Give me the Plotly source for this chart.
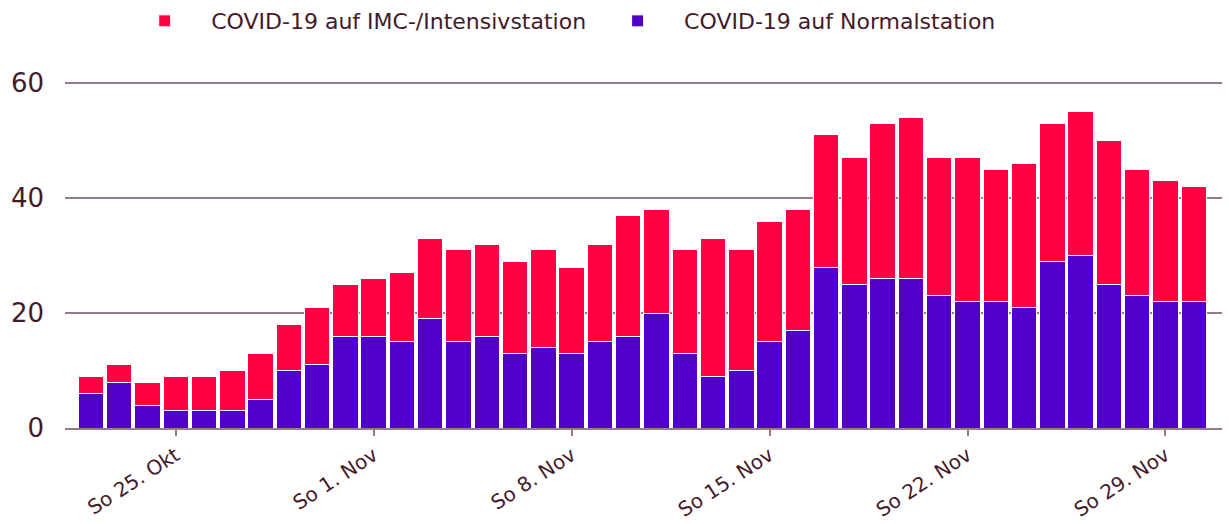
import plotly.graph_objects as go
import pandas as pd

dates = pd.date_range("2020-10-22", "2020-11-30", freq="D")
total = [9, 11, 8, 9, 9, 10, 13, 18, 21, 25,
         26, 27, 33, 31, 32, 29, 31, 28, 32, 37,
         38, 31, 33, 31, 36, 38, 51, 47, 53, 54,
         47, 47, 45, 46, 53, 55, 50, 45, 43, 42]
normal = [6, 8, 4, 3, 3, 3, 5, 10, 11, 16,
          16, 15, 19, 15, 16, 13, 14, 13, 15, 16,
          20, 13, 9, 10, 15, 17, 28, 25, 26, 26,
          23, 22, 22, 21, 29, 30, 25, 23, 22, 22]
icu = [t - n for t, n in zip(total, normal)]

tick_vals = ["2020-10-25", "2020-11-01", "2020-11-08", "2020-11-15", "2020-11-22", "2020-11-29"]
tick_text = ["So 25. Okt", "So 1. Nov", "So 8. Nov", "So 15. Nov", "So 22. Nov", "So 29. Nov"]
y_ticks = [0, 20, 40, 60]

text_color = "#441a2a"
grid_color = "#957a8e"

fig = go.Figure()
fig.add_trace(go.Bar(x=dates, y=normal, name="COVID-19 auf Normalstation",
                     marker=dict(color="#5000c8", line=dict(color="white", width=1))))
fig.add_trace(go.Bar(x=dates, y=icu, name="COVID-19 auf IMC-/Intensivstation",
                     marker=dict(color="#ff0044", line=dict(color="white", width=1))))

fig.update_layout(
    barmode="stack",
    bargap=0.1,
    width=1229, height=524,
    margin=dict(l=65, r=7, t=55, b=96, autoexpand=False),
    plot_bgcolor="white", paper_bgcolor="white",
    font=dict(family="DejaVu Sans", color=text_color, size=17),
    legend=dict(orientation="h", x=0.046, xanchor="left", y=1.091, yanchor="middle",
                traceorder="reversed", font=dict(size=22), itemwidth=83),
    showlegend=True,
)
fig.update_xaxes(
    range=["2020-10-21 02:00", "2020-12-01 00:00"],
    tickvals=tick_vals, ticktext=tick_text, tickangle=-33,
    ticks="outside", ticklen=6, tickcolor=grid_color, tickwidth=2,
    showgrid=False, showline=True, linecolor=grid_color, linewidth=2,
    tickfont=dict(size=20), automargin=False,
)
fig.update_yaxes(
    range=[0, 64.87], tickvals=y_ticks,
    showgrid=True, gridcolor=grid_color, gridwidth=2,
    zeroline=False, showline=False,
    tickfont=dict(size=26), ticks="", ticklabelstandoff=20, automargin=False,
)

fig.write_html(
    "out.html",
    config={"displayModeBar": False},
    post_script="document.body.style.margin='0';document.body.style.padding='0';document.body.style.overflow='hidden';",
)
